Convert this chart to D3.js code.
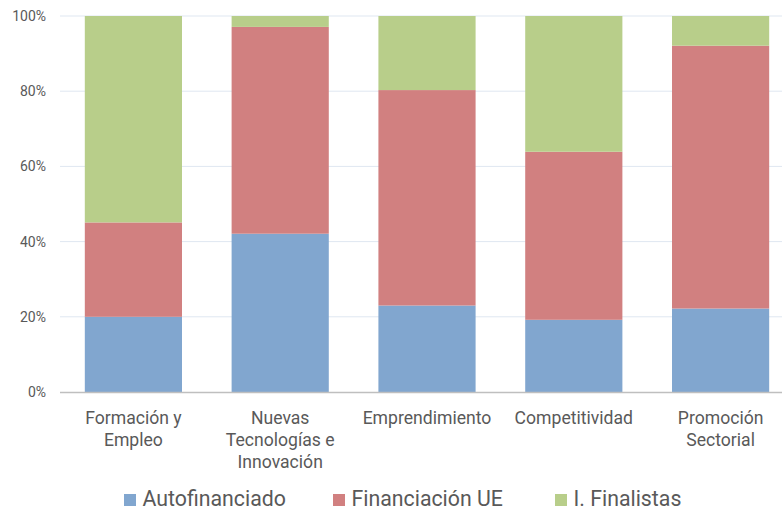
<!DOCTYPE html>
<html>
<head>
<meta charset="utf-8">
<script src="https://cdn.jsdelivr.net/npm/d3@7"></script>
<style>
  body { margin: 0; background: #fff; }
  text { font-family: Roboto, "Open Sans", sans-serif; }
</style>
</head>
<body>
<div id="chart"></div>
<script>
// categories and series (percent of total)
var categories = ["Formación y Empleo", "Nuevas Tecnologías e Innovación", "Emprendimiento", "Competitividad", "Promoción Sectorial"];
var categoryLines = [["Formación y", "Empleo"], ["Nuevas", "Tecnologías e", "Innovación"], ["Emprendimiento"], ["Competitividad"], ["Promoción", "Sectorial"]];
var seriesNames = ["Autofinanciado", "Financiación UE", "I. Finalistas"];
var autofinanciado = [20.0, 42.1, 23.0, 19.2, 22.2];
var financiacionUE = [25.1, 55.0, 57.3, 44.7, 69.9];
var finalistas = [54.9, 2.9, 19.7, 36.1, 7.9];
var yTicks = [0, 20, 40, 60, 80, 100];
var colors = ["#81a6cf", "#d18080", "#b8ce8a"];

var svgWidth = 782;
var svgHeight = 511;
var margin = { top: 16, right: -12, bottom: 119, left: 60 };
var width = svgWidth - margin.left - margin.right;
var height = svgHeight - margin.top - margin.bottom;

var svg = d3.select("#chart")
    .append("svg")
    .attr("width", svgWidth)
    .attr("height", svgHeight);

var chartGroup = svg.append("g")
    .attr("transform", `translate(${margin.left},${margin.top})`);

var data = categories.map(function(c, i) {
    return { cat: c, s0: autofinanciado[i], s1: financiacionUE[i], s2: finalistas[i] };
});

var stack = d3.stack().keys(["s0", "s1", "s2"]);
var stacked = stack(data);

var xScale = d3.scaleBand()
    .domain(categories)
    .range([0, width])
    .paddingInner(0.338)
    .paddingOuter(0.169);

var yScale = d3.scaleLinear()
    .domain([0, 100])
    .range([height, 0]);

// gridlines
chartGroup.append("g")
    .selectAll("line")
    .data(yTicks.slice(1))
    .enter()
    .append("line")
    .attr("x1", 0)
    .attr("x2", width)
    .attr("y1", d => yScale(d))
    .attr("y2", d => yScale(d))
    .attr("stroke", "#dfe7f1")
    .attr("stroke-width", 1);

// bars
chartGroup.selectAll("g.layer")
    .data(stacked)
    .enter()
    .append("g")
    .attr("fill", (d, i) => colors[i])
    .selectAll("rect")
    .data(d => d)
    .enter()
    .append("rect")
    .attr("x", d => xScale(d.data.cat))
    .attr("y", d => yScale(d[1]))
    .attr("height", d => yScale(d[0]) - yScale(d[1]))
    .attr("width", xScale.bandwidth());

// x axis line
chartGroup.append("line")
    .attr("x1", 0)
    .attr("x2", width)
    .attr("y1", height + 0.5)
    .attr("y2", height + 0.5)
    .attr("stroke", "#bfbfbf")
    .attr("stroke-width", 1.5);

// y axis labels
var leftAxis = d3.axisLeft(yScale)
    .tickValues(yTicks)
    .tickFormat(d => d + "%")
    .tickSize(0)
    .tickPadding(14);

var yAxis = chartGroup.append("g").call(leftAxis);
yAxis.select(".domain").remove();
yAxis.selectAll("text")
    .attr("fill", "#595959")
    .style("font-size", "14px");

// category labels
var catGroup = chartGroup.append("g");
categoryLines.forEach(function(lines, i) {
    var cx = xScale(categories[i]) + xScale.bandwidth() / 2;
    var t = catGroup.append("text")
        .attr("x", cx)
        .attr("y", height + 32)
        .attr("text-anchor", "middle")
        .attr("fill", "#595959")
        .style("font-size", "17.6px");
    lines.forEach(function(l, j) {
        t.append("tspan")
            .attr("x", cx)
            .attr("dy", j == 0 ? 0 : 22)
            .text(l);
    });
});

// legend
var legendX = [124, 333, 555];
var legend = svg.append("g");
seriesNames.forEach(function(name, i) {
    legend.append("rect")
        .attr("x", legendX[i])
        .attr("y", 494)
        .attr("width", 12)
        .attr("height", 12)
        .attr("fill", colors[i]);
    legend.append("text")
        .attr("x", legendX[i] + 18.5)
        .attr("y", 506)
        .attr("fill", "#595959")
        .style("font-size", "21.3px")
        .text(name);
});
</script>
</body>
</html>
